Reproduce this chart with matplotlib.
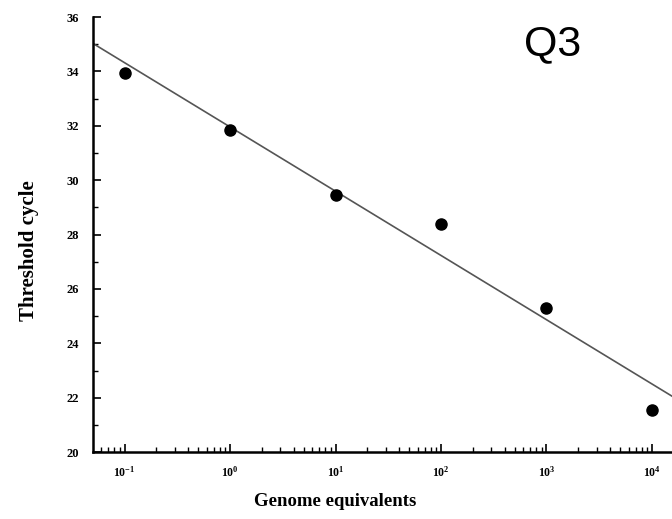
import numpy as np
import matplotlib.pyplot as plt
from matplotlib.ticker import FixedLocator, LogLocator, NullFormatter

# 数据
genome_eq = [1e-1, 1e0, 1e1, 1e2, 1e3, 1e4]
ct_values = [33.95, 31.85, 29.45, 28.38, 25.3, 21.55]
xtick_labels = [r"$\mathbf{10^{-1}}$", r"$\mathbf{10^{0}}$", r"$\mathbf{10^{1}}$",
                r"$\mathbf{10^{2}}$", r"$\mathbf{10^{3}}$", r"$\mathbf{10^{4}}$"]
yticks = [20, 22, 24, 26, 28, 30, 32, 34, 36]

plt.rcParams["font.family"] = ["Liberation Serif", "DejaVu Serif"]
plt.rcParams["mathtext.fontset"] = "custom"
plt.rcParams["mathtext.rm"] = "Liberation Serif:bold"
plt.rcParams["mathtext.bf"] = "Liberation Serif:bold"

fig = plt.figure(figsize=(6.72, 5.19), dpi=100)
ax = fig.add_axes([0.1384, 0.129, 0.8616, 0.838])

ax.set_xscale("log")
ax.set_xlim(10 ** -1.30, 10 ** 4.19)
ax.set_ylim(20, 36)

# 线性拟合 Ct vs log10(x)
k, b = np.polyfit(np.log10(genome_eq), ct_values, 1)
xl = np.array([-1.30, 4.19])
ax.plot(10 ** xl, k * xl + b, color="#555555", lw=1.2, zorder=2)
ax.plot(genome_eq, ct_values, "o", color="black", ms=8, zorder=3)

ax.spines["top"].set_visible(False)
ax.spines["right"].set_visible(False)
ax.spines["left"].set_linewidth(1.8)
ax.spines["bottom"].set_linewidth(1.8)

ax.set_xticks(genome_eq)
ax.set_xticklabels(xtick_labels, fontsize=8.5)
ax.xaxis.set_minor_locator(LogLocator(base=10, subs=np.arange(2, 10)))
ax.xaxis.set_minor_formatter(NullFormatter())
ax.set_yticks(yticks)
ax.set_yticklabels([str(v) for v in yticks], fontsize=9, fontweight="bold")
ax.yaxis.set_minor_locator(FixedLocator(np.arange(21, 36, 2)))

ax.tick_params(which="major", direction="in", length=6, width=1.2, pad=9)
ax.tick_params(which="minor", direction="in", length=3.5, width=1.0)
ax.tick_params(axis="y", which="major", pad=10)

ax.set_xlabel("Genome equivalents", fontsize=13.5, fontweight="bold")
ax.xaxis.set_label_coords(0.418, -0.095)
ax.set_ylabel("Threshold cycle", fontsize=15, fontweight="bold")
ax.yaxis.set_label_coords(-0.094, 0.464)

fig.text(0.822, 0.915, "Q3", fontsize=31, family="Liberation Sans",
         ha="center", va="center")

fig.savefig("out.png", dpi=100)
